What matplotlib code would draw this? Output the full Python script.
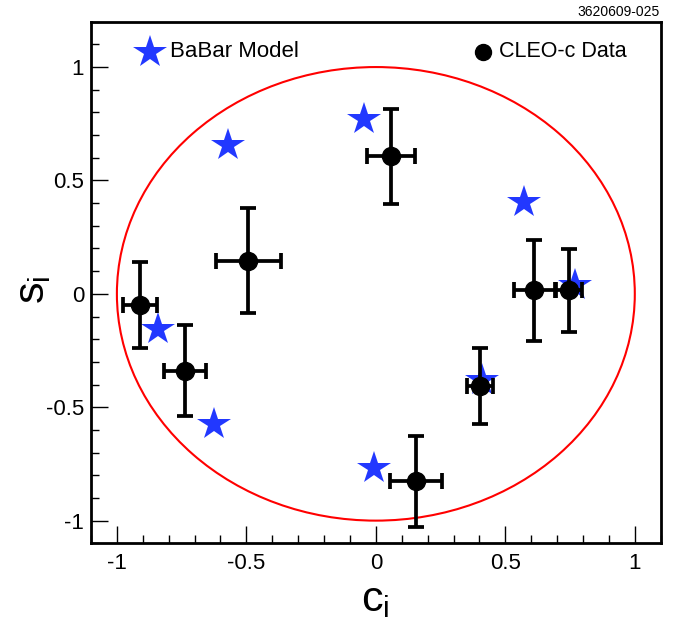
import matplotlib
matplotlib.use("Agg")
import matplotlib.pyplot as plt
from matplotlib.patches import Circle
from matplotlib.ticker import MultipleLocator

plt.rcParams['font.family'] = ['Liberation Sans', 'DejaVu Sans']
plt.rcParams['mathtext.fontset'] = 'custom'
plt.rcParams['mathtext.rm'] = 'Liberation Sans'
plt.rcParams['mathtext.it'] = 'Liberation Sans'

# BaBar model predictions (c_i, s_i)
babar_c = [-0.570, -0.045, 0.571, 0.770, 0.410, -0.009, -0.625, -0.840]
babar_s = [0.655, 0.773, 0.404, 0.040, -0.380, -0.766, -0.572, -0.156]

# CLEO-c measurements with uncertainties
cleo_c = [-0.911, -0.492, 0.059, 0.612, 0.745, 0.403, 0.156, -0.737]
cleo_s = [-0.050, 0.147, 0.607, 0.015, 0.015, -0.407, -0.827, -0.339]
cleo_c_err = [0.065, 0.124, 0.094, 0.080, 0.050, 0.050, 0.100, 0.080]
cleo_s_err = [0.190, 0.232, 0.209, 0.222, 0.183, 0.166, 0.200, 0.200]

x_ticks = [-1, -0.5, 0, 0.5, 1]
x_ticklabels = ['-1', '-0.5', '0', '0.5', '1']
y_ticks = [-1, -0.5, 0, 0.5, 1]
y_ticklabels = ['-1', '-0.5', '0', '0.5', '1']

W, H = 681, 626
fig = plt.figure(figsize=(W / 100, H / 100), dpi=100)
ax = fig.add_axes([91 / W, 1 - 543.3 / H, (660.7 - 91) / W, (543.3 - 21.7) / H])

ax.set_xlim(-1.1, 1.1)
ax.set_ylim(-1.1, 1.2)

# unit circle
ax.add_patch(Circle((0, 0), 1.0, fill=False, edgecolor='#ff0000', linewidth=1.5, zorder=1))

# BaBar stars
ax.plot(babar_c, babar_s, linestyle='none', marker='*', markersize=25,
        color='#2238ff', markeredgewidth=0, zorder=2)

# CLEO-c points
ax.errorbar(cleo_c, cleo_s, xerr=cleo_c_err, yerr=cleo_s_err, fmt='o',
            color='black', markersize=13, elinewidth=2.7, capsize=5.5,
            capthick=2.7, zorder=3)

# ticks
ax.set_xticks(x_ticks)
ax.set_xticklabels(x_ticklabels)
ax.set_yticks(y_ticks)
ax.set_yticklabels(y_ticklabels)
ax.xaxis.set_minor_locator(MultipleLocator(0.1))
ax.yaxis.set_minor_locator(MultipleLocator(0.1))
ax.tick_params(which='both', direction='in', top=False, right=False, labelsize=16)
ax.tick_params(which='major', length=12, width=1.0)
ax.tick_params(which='minor', length=6, width=1.0)
ax.tick_params(axis='x', which='major', pad=7)
ax.tick_params(axis='y', which='major', pad=5)
for sp in ax.spines.values():
    sp.set_linewidth(2)

# legend (drawn manually like ROOT)
ax.plot([0.1036], [0.942], transform=ax.transAxes, marker='*', markersize=25,
        color='#2238ff', markeredgewidth=0, linestyle='none', clip_on=False)
ax.text(0.139, 0.942, 'BaBar Model', transform=ax.transAxes, fontsize=16,
        va='center', ha='left')
ax.plot([0.688], [0.942], transform=ax.transAxes, marker='o', markersize=11.5,
        color='black', linestyle='none', clip_on=False)
ax.text(0.716, 0.942, 'CLEO-c Data', transform=ax.transAxes, fontsize=15.5,
        va='center', ha='left')

# axis labels
fig.text(375 / W, 1 - 600 / H, r'$\mathrm{c}_\mathrm{i}$', fontsize=31,
         ha='center', va='center')
fig.text(33 / W, 1 - 290 / H, r'$\mathrm{s}_\mathrm{i}$', fontsize=31,
         ha='center', va='center', rotation=90)

# figure id
fig.text(660 / W, 1 - 12 / H, '3620609-025', fontsize=10, ha='right', va='center')

fig.savefig('out.png', dpi=100)
